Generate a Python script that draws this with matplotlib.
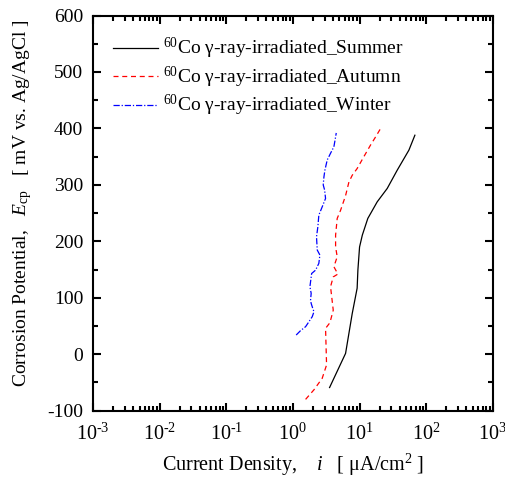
import matplotlib
matplotlib.use("Agg")
import matplotlib.pyplot as plt
from matplotlib.ticker import LogLocator, MultipleLocator, FixedLocator

plt.rcParams['font.family'] = ['Liberation Serif', 'DejaVu Serif']
plt.rcParams['mathtext.fontset'] = 'custom'
plt.rcParams['mathtext.rm'] = 'Liberation Serif'
plt.rcParams['mathtext.it'] = 'Liberation Serif:italic'
plt.rcParams['axes.unicode_minus'] = False

# Summer
summer_i = [3.55, 6.17, 7.76, 9.2, 9.44, 10.0, 11.0, 13.3, 18.4, 26.0, 36.7, 55.0, 67.6]
summer_E = [-59, 1.5, 72, 117, 149, 190, 211, 240.6, 270, 293.7, 326, 361.6, 388]
# Autumn
autumn_i = [1.55, 2.07, 2.75, 3.2, 3.09, 3.59, 4.03, 3.67, 4.03, 4.73, 4.12, 4.62, 4.37,
            4.37, 4.62, 5.19, 6.17, 6.92, 7.76, 9.2, 11.6, 14.6, 17.4, 20.7]
autumn_E = [-80, -63, -42.7, -19, 45.8, 55.8, 78, 119.6, 137, 142, 155, 172.7, 190,
            211, 240.6, 255, 281, 305, 317, 329, 350, 370.5, 385, 400]
# Winter
winter_i = [1.12, 1.30, 1.55, 1.74, 1.95, 2.07, 1.95, 1.88, 1.84, 1.88, 1.80, 1.91, 2.19,
            2.45, 2.54, 2.32, 2.26, 2.37, 2.45, 2.75, 3.09, 2.99, 2.85, 2.92, 3.02, 3.27,
            3.67, 4.12, 4.37, 4.47]
winter_E = [34, 41.7, 48.8, 57.6, 66.5, 75.3, 84, 90, 96, 107.8, 119.6, 143, 149,
            161, 175.7, 184.5, 208, 226, 246.5, 261, 276, 291, 300, 314, 326, 344,
            356, 367.5, 385, 392]

labels = [r'$^{60}$Co γ-ray-irradiated_Summer',
          r'$^{60}$Co γ-ray-irradiated_Autumn',
          r'$^{60}$Co γ-ray-irradiated_Winter']
x_ticks = [1e-3, 1e-2, 1e-1, 1, 1e1, 1e2, 1e3]
x_ticklabels = [r'10$^{\text{-3}}$', r'10$^{\text{-2}}$', r'10$^{\text{-1}}$', r'10$^{0}$',
                r'10$^{1}$', r'10$^{2}$', r'10$^{3}$']

fig = plt.figure(figsize=(5.05, 4.86), dpi=100)
ax = fig.add_axes([0.184, 0.155, 0.792, 0.813])

ax.plot(summer_i, summer_E, color='black', lw=0.9, ls='-', label=labels[0])
ax.plot(autumn_i, autumn_E, color='red', lw=0.9, ls=(0, (4, 3)), label=labels[1])
ax.plot(winter_i, winter_E, color='blue', lw=0.9, ls=(0, (5, 1.5, 1, 1.5)), label=labels[2])

ax.set_xscale('log')
ax.set_xlim(1e-3, 1e3)
ax.set_ylim(-100, 600)
ax.xaxis.set_major_locator(FixedLocator(x_ticks))
ax.xaxis.set_minor_locator(LogLocator(base=10, subs=range(2, 10), numticks=20))
ax.set_xticklabels(x_ticklabels)
ax.yaxis.set_major_locator(MultipleLocator(100))
ax.yaxis.set_minor_locator(MultipleLocator(50))

ax.tick_params(which='both', direction='in', top=True, right=True, width=1.5)
ax.tick_params(axis='y', labelsize=14, pad=7)
ax.tick_params(axis='x', labelsize=14.5, pad=9)
ax.tick_params(which='major', length=6)
ax.tick_params(which='minor', length=3.5)
for s in ax.spines.values():
    s.set_linewidth(1.5)

ax.set_xlabel(r'Current Density,    $i$   [ μA/cm$^2$ ]', fontsize=14.5)
ax.xaxis.set_label_coords(0.5, -0.105)
ax.set_ylabel(r'Corrosion Potential,   $E_{\mathrm{cp}}$   [ mV vs. Ag/AgCl ]', fontsize=14)
ax.yaxis.set_label_coords(-0.148, 0.525)

ax.legend(loc='upper left', bbox_to_anchor=(0.05, 0.948), frameon=False, fontsize=14,
          handlelength=2.3, handletextpad=0.3, labelspacing=0.17,
          borderpad=0, borderaxespad=0)

fig.savefig('out.png', dpi=100)
